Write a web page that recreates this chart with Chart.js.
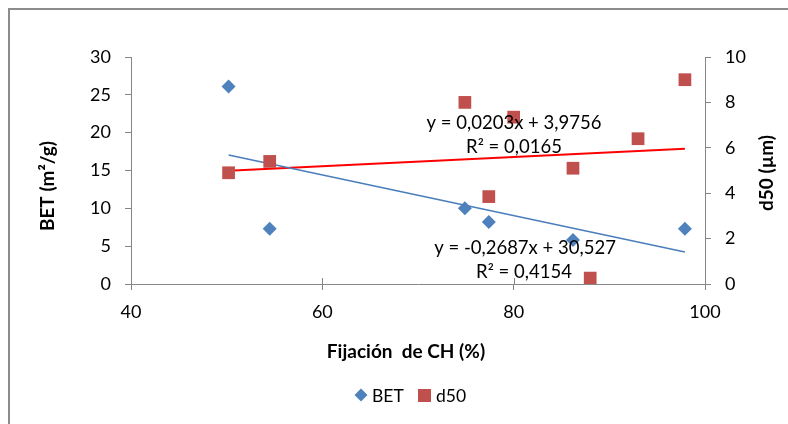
<!DOCTYPE html>
<html>
<head>
<meta charset="utf-8">
<script src="https://cdn.jsdelivr.net/npm/chart.js@4"></script>
<style>
  html, body { margin: 0; padding: 0; background: #fff; }
  #wrap { width: 788px; height: 424px; }
</style>
</head>
<body>
<div id="wrap"><canvas id="chart" width="788" height="424"></canvas></div>
<script>
// datos
const fijacionBET = [50.2, 54.5, 74.9, 77.4, 86.2, 97.9];
const betValues   = [26.1, 7.3, 10.0, 8.2, 5.8, 7.3];

const fijacionD50 = [50.2, 54.5, 74.9, 77.4, 80.0, 86.2, 88.0, 93.0, 97.9];
const d50Values   = [4.9, 5.4, 8.0, 3.85, 7.35, 5.1, 0.26, 6.4, 9.0];

// extremos de las líneas de tendencia
const trendX    = [50.2, 97.9];
const trendBET  = [17.04, 4.22];
const trendD50  = [4.99, 5.96];

const xTicks  = [40, 60, 80, 100];
const betEq   = ['y = -0,2687x + 30,527', 'R² = 0,4154'];
const d50Eq   = ['y = 0,0203x + 3,9756', 'R² = 0,0165'];

const FONT = 'Lato';
const AXIS = '#868686';
const BLUE = '#4F81BD';
const RED  = '#C0504D';

const toXY = (xs, ys) => xs.map((x, i) => ({ x, y: ys[i] }));

// titulos, ecuaciones, leyenda y marco
const extras = {
  id: 'extras',
  afterDraw(chart) {
    const { ctx, scales } = chart;
    const x = scales.x;
    ctx.save();

    // marco exterior
    ctx.strokeStyle = '#8c8c8c';
    ctx.lineWidth = 2;
    ctx.beginPath();
    ctx.moveTo(9, 424);
    ctx.lineTo(9, 9);
    ctx.lineTo(788, 9);
    ctx.stroke();

    // marcas cruzadas del eje x (parte interior)
    ctx.strokeStyle = AXIS;
    ctx.lineWidth = 1;
    xTicks.forEach(v => {
      const px = Math.round(x.getPixelForValue(v)) + 0.5;
      ctx.beginPath();
      ctx.moveTo(px, x.top - 6);
      ctx.lineTo(px, x.top);
      ctx.stroke();
    });

    ctx.fillStyle = '#000';
    ctx.textAlign = 'center';
    ctx.textBaseline = 'middle';

    // ecuaciones
    ctx.font = `18.5px ${FONT}`;
    ctx.fillText(d50Eq[0], 514, 123);
    ctx.fillText(d50Eq[1], 514, 147);
    ctx.fillText(betEq[0], 525, 248);
    ctx.fillText(betEq[1], 524, 272);

    // título eje x
    ctx.font = `bold 19px ${FONT}`;
    ctx.fillText('Fijación  de CH (%)', 406, 352);

    // título eje izquierdo
    ctx.save();
    ctx.translate(48, 186);
    ctx.rotate(-Math.PI / 2);
    ctx.fillText('BET (m²/g)', 0, 0);
    ctx.restore();

    // título eje derecho
    ctx.save();
    ctx.translate(767, 173);
    ctx.rotate(-Math.PI / 2);
    ctx.fillText('d50 (µm)', 0, 0);
    ctx.restore();

    // leyenda
    ctx.font = `17.5px ${FONT}`;
    ctx.textAlign = 'left';
    ctx.fillStyle = BLUE;
    Chart.helpers.drawPoint(ctx, { pointStyle: 'rectRot', radius: 6.5, borderWidth: 0 }, 361, 395);
    ctx.fillStyle = RED;
    ctx.fillRect(418, 389, 13, 13);
    ctx.fillStyle = '#000';
    ctx.fillText('BET', 372, 396);
    ctx.fillText('d50', 436, 396);

    ctx.restore();
  }
};

new Chart(document.getElementById('chart'), {
  type: 'scatter',
  data: {
    datasets: [
      {
        label: 'BET',
        data: toXY(fijacionBET, betValues),
        yAxisID: 'y',
        pointStyle: 'rectRot',
        pointRadius: 7,
        backgroundColor: BLUE,
        borderColor: BLUE,
        borderWidth: 0,
        order: 1
      },
      {
        label: 'd50',
        data: toXY(fijacionD50, d50Values),
        yAxisID: 'y2',
        pointStyle: 'rect',
        pointRadius: 9,
        backgroundColor: RED,
        borderColor: RED,
        borderWidth: 0,
        order: 1
      },
      {
        label: 'Lineal (BET)',
        type: 'line',
        data: toXY(trendX, trendBET),
        yAxisID: 'y',
        borderColor: '#4a7ebb',
        borderWidth: 1.5,
        pointRadius: 0,
        fill: false,
        order: 2
      },
      {
        label: 'Lineal (d50)',
        type: 'line',
        data: toXY(trendX, trendD50),
        yAxisID: 'y2',
        borderColor: '#ff0000',
        borderWidth: 2,
        pointRadius: 0,
        fill: false,
        order: 2
      }
    ]
  },
  options: {
    responsive: false,
    animation: false,
    layout: { padding: { top: 57, left: 0, right: 0, bottom: 0 } },
    plugins: {
      legend: { display: false },
      tooltip: { enabled: false }
    },
    scales: {
      x: {
        type: 'linear',
        position: 'bottom',
        min: 40,
        max: 100,
        afterBuildTicks: s => { s.ticks = xTicks.map(v => ({ value: v })); },
        afterFit: s => { s.height = 140; },
        grid: { drawOnChartArea: false, tickLength: 6, color: AXIS },
        border: { color: AXIS },
        ticks: { color: '#000', padding: 11, font: { family: FONT, size: 18 } }
      },
      y: {
        position: 'left',
        min: 0,
        max: 30,
        afterFit: s => { s.width = 131; },
        grid: { drawOnChartArea: false, tickLength: 6, color: AXIS },
        border: { color: AXIS },
        ticks: { stepSize: 5, color: '#000', padding: 14, font: { family: FONT, size: 18 } }
      },
      y2: {
        position: 'right',
        min: 0,
        max: 10,
        afterFit: s => { s.width = 83; },
        grid: { drawOnChartArea: false, tickLength: 6, color: AXIS },
        border: { color: AXIS },
        ticks: { stepSize: 2, color: '#000', padding: 14, font: { family: FONT, size: 18 } }
      }
    }
  },
  plugins: [extras]
});
</script>
</body>
</html>
